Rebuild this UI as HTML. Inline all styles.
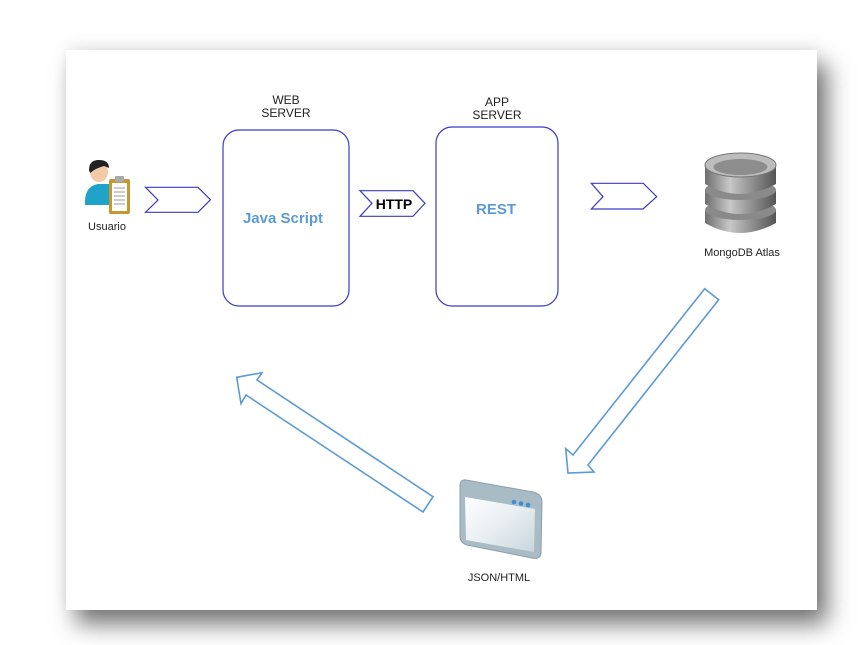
<!DOCTYPE html>
<html><head><meta charset="utf-8"><style>
html,body{margin:0;padding:0;background:#fff;width:868px;height:645px;overflow:hidden;font-family:"Liberation Sans",Arial,sans-serif;}
.card{position:absolute;left:66px;top:50px;width:751px;height:560px;background:#fff;box-shadow:10px 14px 22px rgba(0,0,0,0.55),0 -6px 14px rgba(0,0,0,0.06);}
svg{position:absolute;left:0;top:0;}
</style></head><body>
<div class="card"></div>
<svg width="868" height="645" viewBox="0 0 868 645">
<defs>
<linearGradient id="db" x1="0" x2="1"><stop offset="0" stop-color="#6e6e6e"/><stop offset="0.35" stop-color="#c8c8c8"/><stop offset="0.6" stop-color="#9a9a9a"/><stop offset="1" stop-color="#555"/></linearGradient>
<linearGradient id="win" x1="0" y1="0" x2="1" y2="1"><stop offset="0" stop-color="#ffffff"/><stop offset="0.5" stop-color="#e8eef2"/><stop offset="1" stop-color="#c9d5dc"/></linearGradient>
</defs>
<g font-size="12" fill="#222" text-anchor="middle">
<text x="286" y="104">WEB</text><text x="286" y="117">SERVER</text>
<text x="497" y="106">APP</text><text x="497" y="119">SERVER</text>
</g>
<rect x="223" y="130" width="126" height="176" rx="16" fill="#fff" stroke="#3b3bc4" stroke-width="1.2"/>
<rect x="436" y="127" width="122" height="179" rx="16" fill="#fff" stroke="#3b3bc4" stroke-width="1.2"/>
<text x="283" y="223" font-size="15" font-weight="bold" fill="#5b9bd5" text-anchor="middle">Java Script</text>
<text x="496" y="214" font-size="15" font-weight="bold" fill="#5b9bd5" text-anchor="middle">REST</text>
<g fill="#fff" stroke="#3b3bc4" stroke-width="1.2">
<polygon points="145.5,187.3 198,187.3 210.5,199.7 198,212.3 145.5,212.3 158,200"/>
<polygon points="360,190.7 413,190.7 425,203.3 413,216.3 360,216.3 372,203.3"/>
<polygon points="591.3,183.3 643.3,183.3 656.7,196.7 643,209 591.3,209 603,196.7"/>
</g>
<text x="394" y="209" font-size="14" font-weight="bold" fill="#000" text-anchor="middle">HTTP</text>
<g fill="#fff" stroke="#5b9bd5" stroke-width="1.6" stroke-linejoin="miter">
<polygon points="704.7,288.7 718.7,299.7 588,465 594,472 568,473 565.7,448.7 573,455"/>
<polygon points="433,496.7 423,512 246,395 241,403.7 236.7,377.3 262,372.7 257,380"/>
</g>
<!-- user icon -->
<g>
<path d="M85,200 Q86,186 98,184 L110,184 Q120,187 120,200 L120,205 L85,205 Z" fill="#1fa3c9"/>
<ellipse cx="99" cy="172" rx="9" ry="10" fill="#f3c9a8"/>
<path d="M89,170 Q89,160 99,160 Q109,160 109,168 L104,166 Q96,168 90,173 Z" fill="#222"/>
<rect x="109" y="179" width="21" height="35" rx="2" fill="#c8962e"/>
<rect x="112" y="183" width="15" height="28" fill="#fff"/>
<rect x="115" y="176" width="9" height="6" rx="1" fill="#aaa"/>
<g stroke="#999" stroke-width="1"><line x1="114" y1="188" x2="125" y2="188"/><line x1="114" y1="192" x2="125" y2="192"/><line x1="114" y1="196" x2="125" y2="196"/><line x1="114" y1="200" x2="125" y2="200"/><line x1="114" y1="204" x2="125" y2="204"/></g>
</g>
<text x="107" y="230" font-size="11" fill="#222" text-anchor="middle">Usuario</text>
<!-- db icon -->
<g>
<path d="M705,210 L705,223 Q740,243 776,223 L776,210 Z" fill="url(#db)"/>
<ellipse cx="740.5" cy="210" rx="35.5" ry="10" fill="#8a8a8a"/>
<path d="M705,190 L705,204 Q740,224 776,204 L776,190 Z" fill="url(#db)"/>
<ellipse cx="740.5" cy="190" rx="35.5" ry="10" fill="#8a8a8a"/>
<path d="M705,166 L705,184 Q740,204 776,184 L776,166 Z" fill="url(#db)"/>
<ellipse cx="740.5" cy="165" rx="35.5" ry="12" fill="#bdbdbd" stroke="#777"/>
<ellipse cx="740.5" cy="167" rx="27" ry="8" fill="#8d8d8d"/>
</g>
<text x="742" y="256" font-size="11" fill="#222" text-anchor="middle">MongoDB Atlas</text>
<!-- window icon -->
<g>
<path d="M466,480 L533,492 Q542,494 542,502 L541,553 Q540,560 532,558 L467,545 Q460,543 460,536 L460,486 Q460,479 466,480 Z" fill="#a9bcc6" stroke="#8aa0ab"/>
<path d="M465,497 L535,509 L534,552 L466,540 Z" fill="url(#win)"/>
<circle cx="514" cy="502" r="2.3" fill="#3d8fd0"/><circle cx="521" cy="503.5" r="2.3" fill="#3d8fd0"/><circle cx="528" cy="505" r="2.3" fill="#3d8fd0"/>
</g>
<text x="499" y="581" font-size="11" fill="#222" text-anchor="middle">JSON/HTML</text>
</svg>
</body></html>
